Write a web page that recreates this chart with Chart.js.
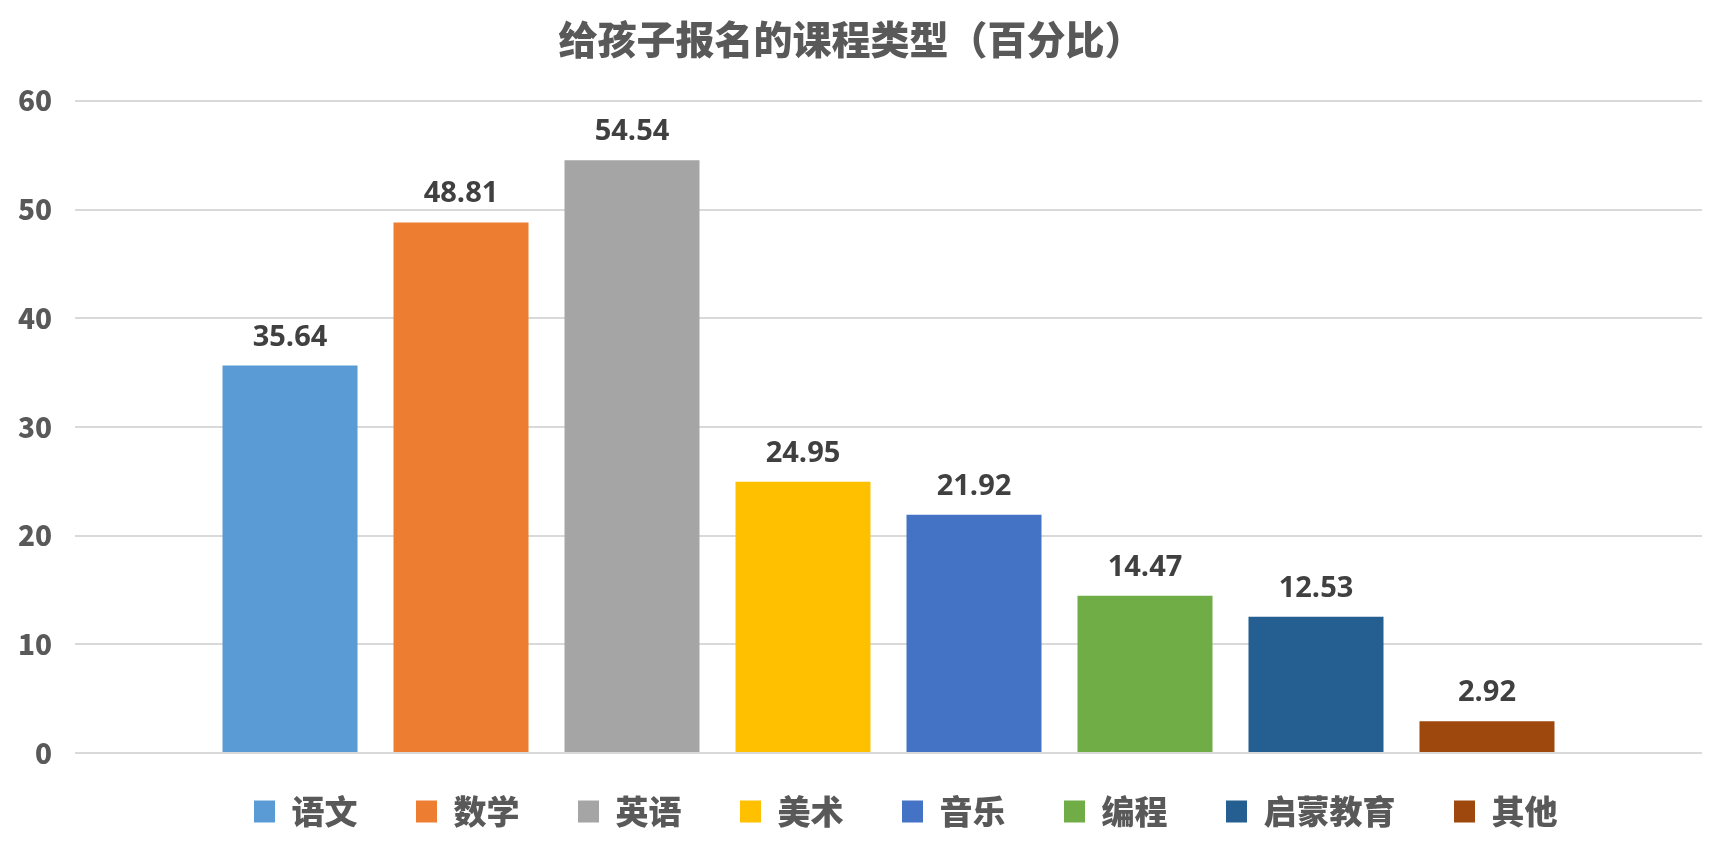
<!DOCTYPE html>
<html>
<head>
<meta charset="utf-8">
<script src="https://cdn.jsdelivr.net/npm/chart.js@4/dist/chart.umd.min.js"></script>
<style>
html,body{margin:0;padding:0;background:#fff;}
#wrap{width:1726px;height:863px;}
</style>
</head>
<body>
<div id="wrap"><canvas id="c" width="1726" height="863"></canvas></div>
<script>
const titleText = '给孩子报名的课程类型（百分比）';
const categories = ['语文', '数学', '英语', '美术', '音乐', '编程', '启蒙教育', '其他'];
const values = [35.64, 48.81, 54.54, 24.95, 21.92, 14.47, 12.53, 2.92];
const colors = ['#5B9BD5', '#ED7D31', '#A5A5A5', '#FFC000', '#4472C4', '#70AD47', '#255E91', '#9E480E'];
const yMin = 0, yMax = 60, yStep = 10;

const CJK = '"Noto Sans CJK SC", "Noto Sans", sans-serif';

const datasets = categories.map((name, i) => ({
  label: name,
  data: [values[i]],
  backgroundColor: colors[i],
  borderWidth: 0,
  categoryPercentage: 0.8408,
  barPercentage: 0.7895
}));

const valueLabels = {
  id: 'valueLabels',
  afterDatasetsDraw(chart) {
    const ctx = chart.ctx;
    ctx.save();
    ctx.font = 'bold 29px "Open Sans", "Liberation Sans", sans-serif';
    ctx.fillStyle = '#404040';
    ctx.textAlign = 'center';
    ctx.textBaseline = 'alphabetic';
    chart.data.datasets.forEach((ds, i) => {
      const meta = chart.getDatasetMeta(i);
      meta.data.forEach((bar, j) => {
        ctx.fillText(ds.data[j].toFixed(2), bar.x, bar.y - 20);
      });
    });
    ctx.restore();
  }
};

const legendShift = {
  id: 'legendShift',
  afterLayout(chart) {
    if (chart.legend) {
      chart.legend.left += 63;
      chart.legend.right += 63;
    }
  }
};

new Chart(document.getElementById('c'), {
  type: 'bar',
  data: { labels: [''], datasets },
  options: {
    responsive: false,
    animation: false,
    devicePixelRatio: 1,
    layout: { padding: { left: 0, right: 24, top: 0, bottom: 25 } },
    plugins: {
      title: {
        display: true,
        text: titleText,
        color: '#595959',
        font: { family: CJK, size: 39, weight: '900' },
        padding: { top: 16, bottom: 38 }
      },
      legend: {
        position: 'bottom',
        labels: {
          color: '#595959',
          font: { family: CJK, size: 33, weight: '900' },
          boxWidth: 21,
          boxHeight: 22,
          padding: 42,
          generateLabels(chart) {
            return Chart.defaults.plugins.legend.labels.generateLabels(chart).map(l => Object.assign(l, { text: l.text + '\u2002', lineWidth: 0 }));
          }
        }
      },
      tooltip: { enabled: false }
    },
    scales: {
      x: { display: false },
      y: {
        min: yMin,
        max: yMax,
        ticks: {
          stepSize: yStep,
          padding: 23,
          color: '#595959',
          font: { family: CJK, size: 28, weight: '900' }
        },
        grid: { color: '#D9D9D9', lineWidth: 2, drawTicks: false },
        border: { display: false },
        afterFit(scale) { scale.width = 75; }
      }
    }
  },
  plugins: [valueLabels, legendShift]
});
</script>
</body>
</html>
